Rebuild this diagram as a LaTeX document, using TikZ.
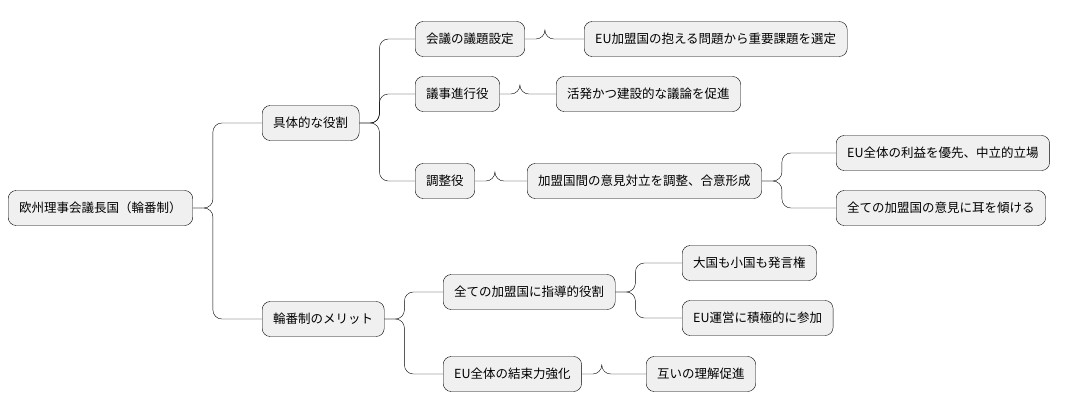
\documentclass[tikz,border=0pt]{standalone}
\usepackage{fontspec}
\setmainfont{Noto Sans CJK JP}
\begin{document}
\begin{tikzpicture}[x=1pt, y=-1pt,
    topic/.style={draw, thin, rounded corners=8pt, fill=black!6, minimum height=35pt,
      inner xsep=11pt, anchor=west, font=\fontsize{12.5}{15}\selectfont},
    link/.style={thin, rounded corners=9pt},
]
\useasboundingbox (0,0) rectangle (1082,415);

\node[topic] (root) at (8,208) {欧州理事会議長国（輪番制）};

\node[topic] (role) at (262,123) {具体的な役割};
\node[topic] (merit) at (262,319) {輪番制のメリット};

\node[topic] (agenda) at (415,39) {会議の議題設定};
\node[topic] (select) at (584,39) {EU加盟国の抱える問題から重要課題を選定};
\node[topic] (chair) at (415,94) {議事進行役};
\node[topic] (debate) at (556,94) {活発かつ建設的な議論を促進};
\node[topic] (coord) at (415,181) {調整役};
\node[topic] (consensus) at (527,181) {加盟国間の意見対立を調整、合意形成};
\node[topic] (neutral) at (836,153) {EU全体の利益を優先、中立的立場};
\node[topic] (listen) at (836,208) {全ての加盟国の意見に耳を傾ける};

\node[topic] (lead) at (443,292) {全ての加盟国に指導的役割};
\node[topic] (voice) at (682,263) {大国も小国も発言権};
\node[topic] (join) at (682,318) {EU運営に積極的に参加};
\node[topic] (unity) at (443,374) {EU全体の結束力強化};
\node[topic] (mutual) at (646,374) {互いの理解促進};

% branches
\foreach \p/\c in {root/role, root/merit, role/agenda, role/chair, role/coord,
    coord/consensus, consensus/neutral, consensus/listen, agenda/select, chair/debate,
    merit/lead, merit/unity, lead/voice, lead/join, unity/mutual}
  \draw[link] (\p.east) -- ++(20,0) |- (\c.west);
\end{tikzpicture}
\end{document}
